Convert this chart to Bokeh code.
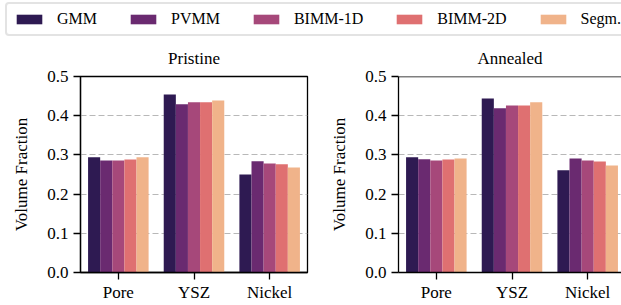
from bokeh.plotting import figure
from bokeh.models import (Range1d, FixedTicker, PrintfTickFormatter, Legend,
                          LegendItem, ColumnDataSource, Span)
from bokeh.layouts import column, row
from bokeh.transform import dodge
from bokeh.embed import file_html
from bokeh.resources import INLINE

categories = ["Pore", "YSZ", "Nickel"]
methods = ["GMM", "PVMM", "BIMM-1D", "BIMM-2D", "Segm."]
colors = ["#2e1a52", "#6a2a70", "#a6487a", "#df7071", "#f0b38a"]
panel_titles = ["Pristine", "Annealed"]

pristine_gmm = [0.294, 0.454, 0.250]
pristine_pvmm = [0.286, 0.429, 0.284]
pristine_bimm1d = [0.286, 0.434, 0.278]
pristine_bimm2d = [0.288, 0.434, 0.276]
pristine_segm = [0.294, 0.439, 0.268]

annealed_gmm = [0.294, 0.444, 0.261]
annealed_pvmm = [0.289, 0.419, 0.291]
annealed_bimm1d = [0.286, 0.426, 0.286]
annealed_bimm2d = [0.288, 0.426, 0.283]
annealed_segm = [0.291, 0.434, 0.273]

y_ticks = [0.0, 0.1, 0.2, 0.3, 0.4, 0.5]

FONT = "Liberation Serif"
BAR_W = 0.16
OFFSETS = [-0.32, -0.16, 0.0, 0.16, 0.32]
TOP_H = 37


def make_panel(title, series, width, border_left, border_right, x_end, box):
    p = figure(width=width, height=305 - TOP_H, x_range=Range1d(-0.5, x_end),
               y_range=Range1d(0, 0.5), output_backend="svg",
               toolbar_location=None, min_border_left=border_left,
               min_border_right=border_right, min_border_top=76 - TOP_H,
               min_border_bottom=33)
    p.title.text = title
    p.title.align = "center"
    p.title.text_font = FONT
    p.title.text_font_size = "17px"
    p.title.text_font_style = "normal"
    p.title.text_color = "black"
    p.title.standoff = 18

    idx = list(range(len(categories)))
    for vals, off, col in zip(series, OFFSETS, colors):
        src = ColumnDataSource(dict(x=idx, top=vals))
        p.vbar(x=dodge("x", off), top="top", width=BAR_W, bottom=0,
               source=src, fill_color=col, line_color=None)

    p.xgrid.visible = False
    p.ygrid.ticker = FixedTicker(ticks=y_ticks)
    p.ygrid.grid_line_color = "#b8b8b8"
    p.ygrid.grid_line_dash = "6 3"
    p.ygrid.grid_line_width = 1.2

    p.xaxis.ticker = FixedTicker(ticks=idx)
    p.xaxis.major_label_overrides = {i: c for i, c in zip(idx, categories)}
    p.yaxis.ticker = FixedTicker(ticks=y_ticks)
    p.yaxis.formatter = PrintfTickFormatter(format="%.1f")
    p.yaxis.axis_label = "Volume Fraction"
    p.yaxis.axis_label_standoff = 13
    p.yaxis.axis_label_text_font = FONT
    p.yaxis.axis_label_text_font_size = "17px"
    p.yaxis.axis_label_text_font_style = "normal"
    p.yaxis.axis_label_text_color = "black"
    for ax in (p.xaxis[0], p.yaxis[0]):
        ax.major_label_text_font = FONT
        ax.major_label_text_font_size = "17px"
        ax.major_label_text_color = "black"
        ax.major_tick_out = 7
        ax.major_tick_in = 0
        ax.minor_tick_out = 0
        ax.minor_tick_in = 0
        ax.axis_line_color = "black"
        ax.axis_line_width = 1.3
        ax.major_tick_line_width = 1.3
    p.xaxis[0].major_label_standoff = 3
    p.yaxis[0].major_label_standoff = 5
    if box:
        p.outline_line_color = "black"
        p.outline_line_width = 1.3
        p.outline_line_alpha = 1.0
    else:
        p.outline_line_color = None
        p.add_layout(Span(location=0.5, dimension="width",
                          line_color="black", line_width=1.3))
    return p


p1 = make_panel(panel_titles[0],
                [pristine_gmm, pristine_pvmm, pristine_bimm1d,
                 pristine_bimm2d, pristine_segm],
                312, 80, 5, 2.5, True)
p2 = make_panel(panel_titles[1],
                [annealed_gmm, annealed_pvmm, annealed_bimm1d,
                 annealed_bimm2d, annealed_segm],
                309, 86, 0, 2.447, False)

# top strip: legend only
top = figure(width=621, height=TOP_H, x_range=(0, 1), y_range=(0, 1),
             output_backend="svg", toolbar_location=None,
             x_axis_location=None, y_axis_location=None, min_border=0,
             outline_line_color=None)
top.grid.visible = False
items = []
for m, col in zip(methods, colors):
    r = top.vbar(x=[-50.0], top=[0.0], bottom=[0.0], width=0.01,
                 fill_color=col, line_color=None)
    items.append(LegendItem(label=m, renderers=[r]))
legend = Legend(items=items, orientation="horizontal",
                location=(5, TOP_H - 36),
                glyph_width=32, glyph_height=12, label_standoff=12,
                spacing=30, padding=6, margin=0,
                label_text_font=FONT, label_text_font_size="16px",
                label_text_color="black", border_line_color="#c8c8c8",
                border_line_width=2, background_fill_alpha=1.0)
if "border_radius" in legend.properties():
    legend.border_radius = 4
top.add_layout(legend, "center")

layout = column(top, row(p1, p2))
open("out.html", "w").write(file_html(layout, INLINE))
